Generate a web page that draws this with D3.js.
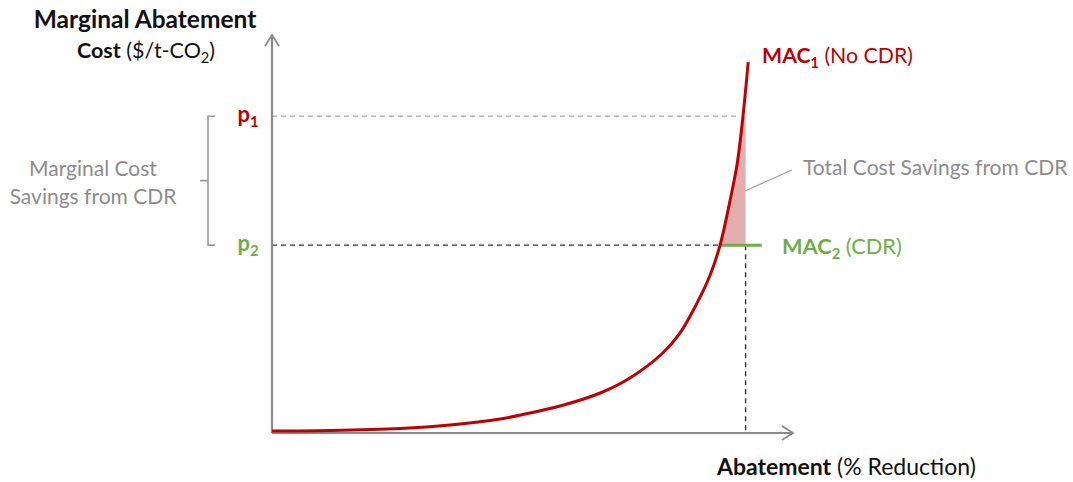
<!DOCTYPE html>
<html>
<head>
<meta charset="utf-8">
<script src="https://cdn.jsdelivr.net/npm/d3@7/dist/d3.min.js"></script>
<style>
  html, body { margin: 0; padding: 0; background: #fff; }
  svg { display: block; font-family: Lato, "Open Sans", sans-serif; }
</style>
</head>
<body>
<svg id="chart" width="1073" height="482"></svg>
<script>
// Marginal abatement cost curve (abatement %, cost index)
const abatement = [0, 11.1, 24.6, 34.2, 43.8, 49.5, 55.3, 63.0, 68.7, 75.0, 78.3, 81.6, 84.1, 86.0, 87.9, 89.3, 90.4, 91.4];
const cost      = [0.5, 0.63, 1.13, 2.01, 3.52, 5.03, 6.78, 10.05, 13.82, 20.1, 25.1, 32.7, 39.7, 47.2, 58.3, 67.8, 79.6, 93.2];

// Carbon prices and the abatement level reached with CDR
const prices = { p1: 79.6, p2: 47.2 };
const abatementTarget = [90.9];
const mac2Extent = [86.0, 94.0];

const priceLabels = ["p", "p"];
const priceSubs = ["1", "2"];

const red = "#C00000", green = "#70AD47", axisGrey = "#8a8a8a", textGrey = "#8c8c8c";

const svg = d3.select("#chart");

const x = d3.scaleLinear().domain([0, 100]).range([272, 793]);
const y = d3.scaleLinear().domain([0, 100]).range([433, 35]);

const curve = abatement.map((a, i) => ({ a, c: cost[i] }));
const q = abatementTarget[0];

// Shaded total savings: between MAC1 and the target abatement, from p2 up to p1
const shade = curve.filter(d => d.c >= prices.p2 && d.c <= prices.p1)
  .concat([{ a: q, c: prices.p1 }, { a: q, c: prices.p2 }]);
svg.append("path")
  .attr("d", d3.line().x(d => x(d.a)).y(d => y(d.c))(shade) + "Z")
  .attr("fill", "#E3AEB0");

// Guide lines
svg.append("line")
  .attr("x1", x(0)).attr("x2", x(89.6))
  .attr("y1", y(prices.p1)).attr("y2", y(prices.p1))
  .attr("stroke", "#a6a6a6").attr("stroke-width", 1.3).attr("stroke-dasharray", "5,4");
svg.append("line")
  .attr("x1", x(0)).attr("x2", x(q))
  .attr("y1", y(prices.p2)).attr("y2", y(prices.p2))
  .attr("stroke", "#333").attr("stroke-width", 1.4).attr("stroke-dasharray", "5,4");
svg.append("line")
  .attr("x1", x(q)).attr("x2", x(q))
  .attr("y1", y(prices.p2)).attr("y2", y(0))
  .attr("stroke", "#333").attr("stroke-width", 1.4).attr("stroke-dasharray", "5,4");

// Axes with open arrowheads
const axes = svg.append("g").attr("stroke", axisGrey).attr("stroke-width", 2.2).attr("fill", "none");
axes.append("path").attr("d", d3.line()([[x(0), y(0)], [x(0), y(100)]]));
axes.append("path").attr("d", d3.line()([[x(0), y(0)], [x(100), y(0)]]));
axes.append("path").attr("d", d3.line()([[x(0) - 7, y(100) + 11], [x(0), y(100)], [x(0) + 7, y(100) + 11]]))
  .attr("stroke-width", 1.8);
axes.append("path").attr("d", d3.line()([[x(100) - 11, y(0) - 7], [x(100), y(0)], [x(100) - 11, y(0) + 7]]))
  .attr("stroke-width", 1.8);

// MAC2 horizontal (with CDR)
svg.append("line")
  .attr("x1", x(mac2Extent[0])).attr("x2", x(mac2Extent[1]))
  .attr("y1", y(prices.p2)).attr("y2", y(prices.p2))
  .attr("stroke", green).attr("stroke-width", 3);

// MAC1 curve
svg.append("path")
  .datum(curve)
  .attr("d", d3.line().x(d => x(d.a)).y(d => y(d.c)).curve(d3.curveCatmullRom.alpha(0.5)))
  .attr("fill", "none").attr("stroke", red).attr("stroke-width", 3);

// Leader for total savings
svg.append("line")
  .attr("x1", 745).attr("y1", 191).attr("x2", 792).attr("y2", 170)
  .attr("stroke", "#a0a0a0").attr("stroke-width", 1.3);

// Brace for marginal savings
const braceX = 208;
svg.append("path")
  .attr("d", `M${braceX + 7},${y(prices.p1)} H${braceX} V${y(prices.p2)} H${braceX + 7} M${braceX},${(y(prices.p1) + y(prices.p2)) / 2} H${braceX - 8}`)
  .attr("fill", "none").attr("stroke", "#999").attr("stroke-width", 1.6);

// Text helpers
function label(xp, yp, anchor, parts, color, size) {
  const t = svg.append("text").attr("x", xp).attr("y", yp).attr("text-anchor", anchor)
    .attr("fill", color).attr("font-size", size);
  parts.forEach(p => {
    const s = t.append("tspan").text(p.text);
    if (p.bold) s.attr("font-weight", "bold");
    if (p.sub) s.attr("font-size", size * 0.68).attr("dy", size * 0.22);
    if (p.reset) s.attr("dy", -size * 0.22);
  });
  return t;
}

// Y-axis title
label(145, 28, "middle", [{ text: "Marginal Abatement", bold: true }], "#111", 24.5);
label(146, 58, "middle", [{ text: "Cost", bold: true }, { text: " ($/t-CO" }, { text: "2", sub: true }, { text: ")", reset: true }], "#111", 21.5);

// X-axis title
label(717, 475, "start", [{ text: "Abatement", bold: true }, { text: " (% Reduction)" }], "#111", 23);

// Price labels
label(248, 122, "middle", [{ text: priceLabels[0], bold: true }, { text: priceSubs[0], sub: true, bold: true }], red, 22);
label(248, 251, "middle", [{ text: priceLabels[1], bold: true }, { text: priceSubs[1], sub: true, bold: true }], green, 22);

// Brace caption
label(93, 176, "middle", [{ text: "Marginal Cost" }], textGrey, 21);
label(93, 204, "middle", [{ text: "Savings from CDR" }], textGrey, 21);

// Curve labels
label(762, 63, "start", [{ text: "MAC", bold: true }, { text: "1", bold: true, sub: true }, { text: " (No CDR)", reset: true }], red, 21.3);
label(782, 254, "start", [{ text: "MAC", bold: true }, { text: "2", bold: true, sub: true }, { text: " (CDR)", reset: true }], green, 21.8);
label(803, 175, "start", [{ text: "Total Cost Savings from CDR" }], textGrey, 21);
</script>
</body>
</html>
